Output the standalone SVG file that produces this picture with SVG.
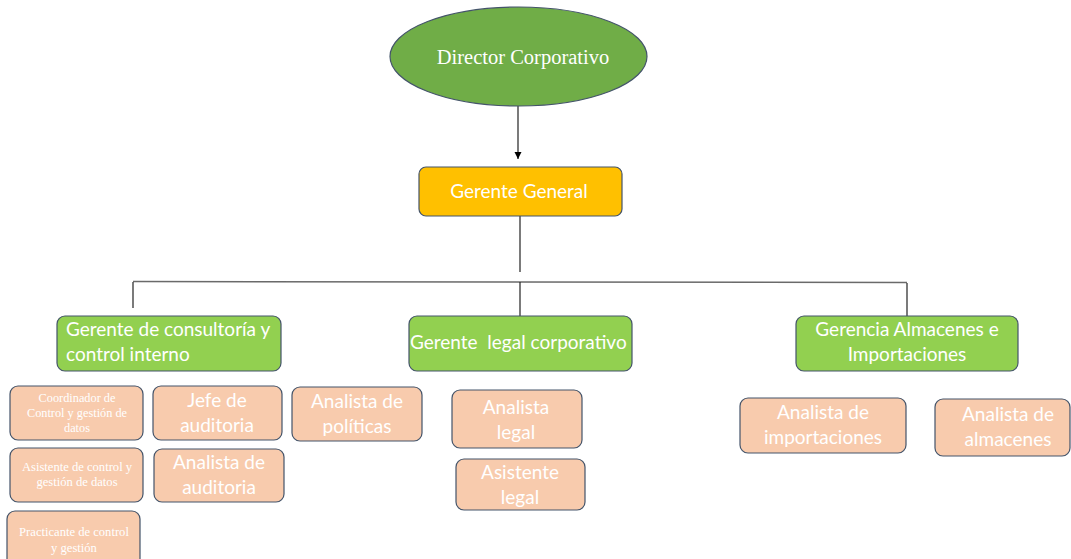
<svg xmlns="http://www.w3.org/2000/svg" width="1071" height="559" viewBox="0 0 1071 559">
<defs>
<marker id="arr" markerWidth="8" markerHeight="8" refX="7" refY="4" orient="auto" markerUnits="userSpaceOnUse">
<path d="M0,0.5 L7,4 L0,7.5 Z" fill="#000"/>
</marker>
<style>
.g{fill:#92D050;stroke:#44546A;stroke-width:1.2}
.p{fill:#F8CBAD;stroke:#44546A;stroke-width:1.2}
.t{font-family:Lato,"Liberation Sans",sans-serif;font-size:19px;fill:#fff}
.s{font-family:"Liberation Serif",serif;fill:#fff}
.c{text-anchor:middle}
.ln{stroke:#222;stroke-width:1.2;fill:none}
</style>
</defs>
<rect width="1071" height="559" fill="#fff"/>
<g id="connectors">
<line class="ln" x1="518" y1="106" x2="518" y2="159" marker-end="url(#arr)"/>
<line class="ln" x1="520" y1="216" x2="520" y2="272"/>
<line x1="133" y1="281.5" x2="907" y2="282.5" stroke="#6a6a6a" stroke-width="1.5"/>
<line class="ln" x1="133" y1="282" x2="133" y2="308"/>
<line class="ln" x1="520" y1="282" x2="520" y2="316"/>
<line class="ln" x1="907" y1="283" x2="907" y2="316" stroke="#555"/>
</g>
<g id="director">
<ellipse cx="518.5" cy="56.5" rx="128.5" ry="49.5" fill="#70AD47" stroke="#44546A" stroke-width="1.2"/>
<text class="s c" x="523" y="64" font-size="20.5">Director Corporativo</text>
</g>
<g id="gerente-general">
<rect x="419" y="167" width="203" height="49" rx="7" fill="#FFC000" stroke="#44546A" stroke-width="1.2"/>
<text class="t c" x="519" y="198">Gerente General</text>
</g>
<g id="gerente-consultoria">
<rect class="g" x="57" y="316" width="224" height="55" rx="8"/>
<text class="t" x="66" y="336">Gerente de consultoría y</text>
<text class="t" x="66" y="361">control interno</text>
</g>
<g id="gerente-legal">
<rect class="g" x="409" y="316" width="223" height="55" rx="8"/>
<text class="t" x="410" y="349" xml:space="preserve">Gerente  legal corporativo</text>
</g>
<g id="gerencia-almacenes">
<rect class="g" x="796" y="316" width="222" height="55" rx="8"/>
<text class="t c" x="907" y="336">Gerencia Almacenes e</text>
<text class="t c" x="907" y="361">Importaciones</text>
</g>
<g id="coordinador">
<rect class="p" x="10" y="386" width="133" height="54" rx="8"/>
<text class="s c" x="77" y="402" font-size="12.3">Coordinador de</text>
<text class="s c" x="77" y="417" font-size="12.3">Control y gestión de</text>
<text class="s c" x="77" y="432" font-size="12.3">datos</text>
</g>
<g id="jefe-auditoria">
<rect class="p" x="153" y="386" width="129" height="54" rx="8"/>
<text class="t c" x="217" y="407">Jefe de</text>
<text class="t c" x="217" y="432">auditoria</text>
</g>
<g id="asistente-control">
<rect class="p" x="10" y="448" width="133" height="54" rx="8"/>
<text class="s c" x="77" y="471" font-size="12.6">Asistente de control y</text>
<text class="s c" x="77" y="486" font-size="12.6">gestión de datos</text>
</g>
<g id="analista-auditoria">
<rect class="p" x="154" y="449" width="130" height="53" rx="8"/>
<text class="t c" x="219" y="469">Analista de</text>
<text class="t c" x="219" y="494">auditoria</text>
</g>
<g id="practicante">
<rect class="p" x="7" y="511" width="133" height="60" rx="8"/>
<text class="s c" x="74" y="536" font-size="12.6">Practicante de control</text>
<text class="s c" x="74" y="552" font-size="12.6">y gestión</text>
</g>
<g id="analista-politicas">
<rect class="p" x="292" y="387" width="130" height="54" rx="8"/>
<text class="t c" x="357" y="408">Analista de</text>
<text class="t c" x="357" y="433">políticas</text>
</g>
<g id="analista-legal">
<rect class="p" x="452" y="390" width="130" height="58" rx="8"/>
<text class="t c" x="516" y="414">Analista</text>
<text class="t c" x="516" y="439">legal</text>
</g>
<g id="asistente-legal">
<rect class="p" x="456" y="459" width="129" height="51" rx="8"/>
<text class="t c" x="520" y="479">Asistente</text>
<text class="t c" x="520" y="504">legal</text>
</g>
<g id="analista-importaciones">
<rect class="p" x="740" y="398" width="166" height="55" rx="8"/>
<text class="t c" x="823" y="419">Analista de</text>
<text class="t c" x="823" y="444">importaciones</text>
</g>
<g id="analista-almacenes">
<rect class="p" x="935" y="399" width="135" height="57" rx="8"/>
<text class="t c" x="1008" y="421">Analista de</text>
<text class="t c" x="1008" y="446">almacenes</text>
</g>
</svg>
